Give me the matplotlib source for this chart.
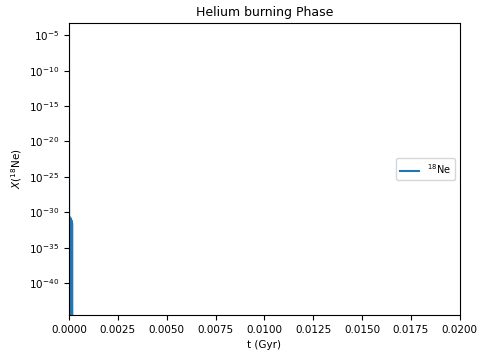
import matplotlib.pyplot as plt
import numpy as np

# time in Gyr and 18Ne mass fraction
t_gyr = [0.0, 0.00001, 0.00002, 0.00003, 0.00004, 0.00005, 0.00006, 0.00007,
         0.00008, 0.00009, 0.00010, 0.00011, 0.00012, 0.00013, 0.00014,
         0.00015, 0.00016, 0.00017]
x_ne18 = [1e-4, 1e-45, 2e-31, 1e-45, 2e-31, 1e-45, 1.5e-31, 1e-45, 1.5e-31,
          1e-45, 1e-31, 1e-45, 8e-32, 1e-45, 5e-32, 1e-45, 3e-32, 1e-45]

fig = plt.figure(figsize=(4.79, 3.56), dpi=100)
ax = fig.add_axes([0.144, 0.115, 0.816, 0.82])
ax.plot(t_gyr, x_ne18, color='#1f77b4', lw=1.5, label=r'$^{18}$Ne')
ax.set_yscale('log')
ax.set_xlim(0, 0.02)
ax.set_ylim(10**-44.5, 10**-3.3)
ax.set_yticks([10.0**-k for k in range(5, 45, 5)])
ax.minorticks_off()
ax.tick_params(labelsize=7.5)
ax.set_xlabel('t (Gyr)', fontsize=7.5)
ax.set_ylabel(r'$X(^{18}$Ne$)$', fontsize=7.5)
ax.set_title('Helium burning Phase', fontsize=9, pad=5)
ax.legend(loc='center right', fontsize=7)
fig.savefig('out.png', dpi=100)
